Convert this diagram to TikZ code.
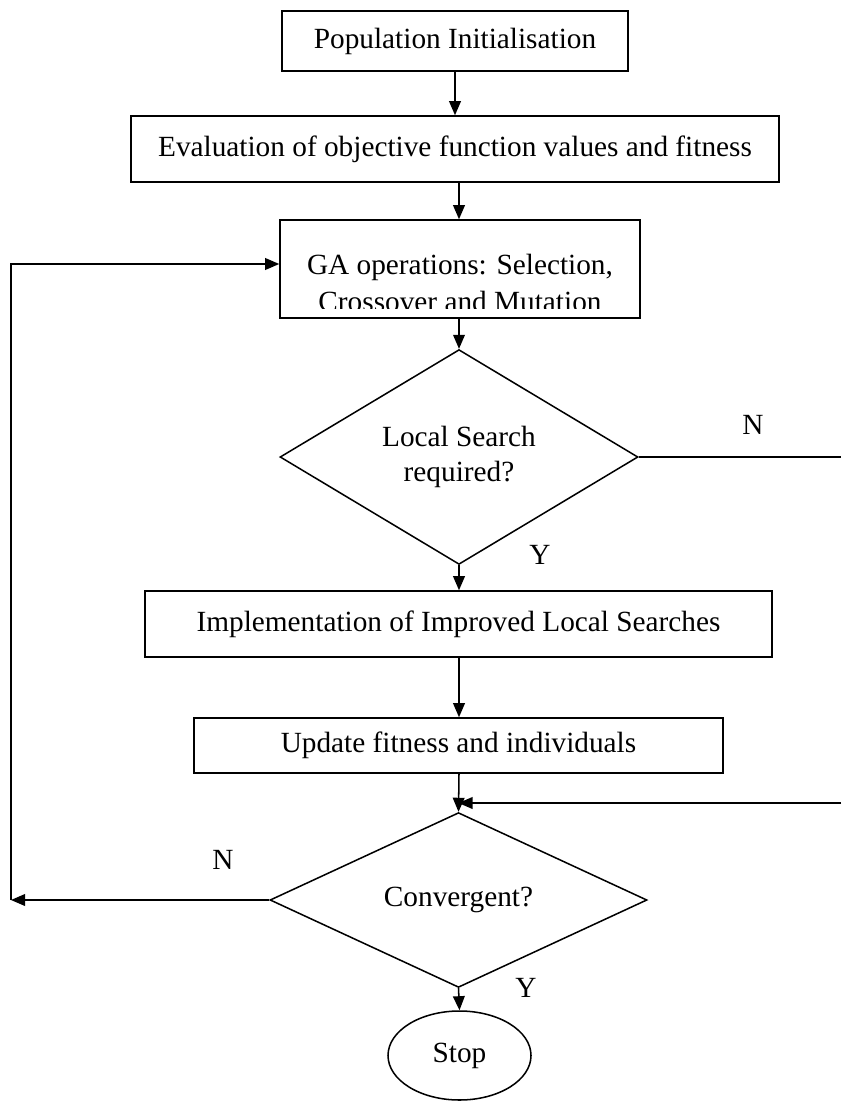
\documentclass[tikz,border=0pt]{standalone}
\usepackage{fontspec}
\setmainfont{Liberation Serif}
\usetikzlibrary{shapes.geometric,arrows.meta}

\begin{document}
\begin{tikzpicture}[x=0.03cm,y=-0.03cm,
    font=\fontsize{25}{29.5}\selectfont,
    line width=1.3pt,
    arr/.style={-{Triangle[length=12pt,width=10pt]}},
    stepbox/.style={draw,rectangle,inner sep=0pt,align=center},
    choice/.style={draw,diamond,inner sep=0pt,align=center},
    lbl/.style={inner sep=0pt}]
  \useasboundingbox (0,0) rectangle (841,1101);%page size
  % boxes
  \node[stepbox,minimum width=346*0.03cm,minimum height=60*0.03cm] (pop) at (455,41) {Population Initialisation};
  \node[stepbox,minimum width=648*0.03cm,minimum height=66*0.03cm] (eval) at (455,149) {Evaluation of objective function values and fitness};
  \node[stepbox,minimum width=360*0.03cm,minimum height=98*0.03cm] (ga) at (460,269) {};
  \begin{scope}
    \clip (ga.north west) rectangle (ga.east |- 0,308);
    \node[lbl,align=center] (gatxt) at (460,283) {GA operations: Selection,\\[0.05cm]Crossover and Mutation};
  \end{scope}
  \node[choice,minimum width=358*0.03cm,minimum height=169*0.03cm] (ls) at (459,457) {Local Search\\required?};
  \node[stepbox,minimum width=627*0.03cm,minimum height=66*0.03cm] (impl) at (458.5,624) {Implementation of Improved Local Searches};
  \node[stepbox,minimum width=529*0.03cm,minimum height=55*0.03cm] (upd) at (458.5,745.5) {Update fitness and individuals};
  \node[choice,minimum width=377*0.03cm,minimum height=136*0.03cm] (conv) at (458.5,900) {Convergent?};
  \node[draw,ellipse,inner sep=0pt,minimum width=143*0.03cm,minimum height=89*0.03cm] (stop) at (459.5,1055.5) {Stop};
  % free ends
  \coordinate (ne) at (841,457);
  \coordinate (se) at (841,803);
  \coordinate (w) at (11,900);
  % connectors
  \draw[arr] (pop.south) -- (pop.south |- eval.north);
  \draw[arr] (ls.north |- eval.south) -- (ls.north |- ga.north);
  \draw[arr] (ga.south -| ls.north) -- (ls.north);
  \draw[arr] (ls.south) -- (ls.south |- impl.north);
  \draw[arr] (ls.south |- impl.south) -- (ls.south |- upd.north);
  \draw[arr] (ls.south |- upd.south) -- (conv.north);
  \draw (ls.east) -- (ne);
  \draw[arr] (se) -- (se -| conv.north);
  \draw[arr] (conv.west) -- (w);
  \draw[arr] (w) -- (w |- 0,264) -- (ga.west |- 0,264);
  \draw[arr] (conv.south) -- (stop.north);
  % labels
  \node[lbl] (n1) at (753,425) {N};
  \node[lbl] (y1) at (540,555) {Y};
  \node[lbl] (n2) at (223,860) {N};
  \node[lbl] (y2) at (526,988) {Y};
\end{tikzpicture}
\end{document}
